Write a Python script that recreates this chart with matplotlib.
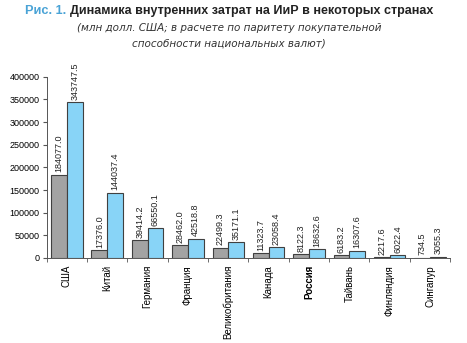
import matplotlib
matplotlib.use('Agg')
import matplotlib.pyplot as plt
import numpy as np

# данные
countries = ['США', 'Китай', 'Германия', 'Франция', 'Великобритания',
             'Канада', 'Россия', 'Тайвань', 'Финляндия', 'Сингапур']
series_old = [184077.0, 17376.0, 39414.2, 28462.0, 22499.3,
              11323.7, 8122.3, 6183.2, 2217.6, 734.5]
series_new = [343747.5, 144037.4, 66550.1, 42518.8, 35171.1,
              23058.4, 18632.6, 16307.6, 6022.4, 3055.3]
yticks = [0, 50000, 100000, 150000, 200000, 250000, 300000, 350000, 400000]

plt.rcParams['font.family'] = ['Liberation Sans Narrow', 'Liberation Sans', 'DejaVu Sans']

fig = plt.figure(figsize=(4.67, 3.43), dpi=100)
ax = fig.add_axes([0.1, 0.248, 0.864, 0.528])

x = np.arange(len(countries))
w = 0.39
ax.bar(x - w / 2, series_old, w, color='#a3a3a3', edgecolor='#404040', linewidth=0.8)
ax.bar(x + w / 2, series_new, w, color='#88d4f7', edgecolor='#404040', linewidth=0.8)

for i in range(len(countries)):
    ax.text(x[i] - w / 2, series_old[i] + 5000, f'{series_old[i]:.1f}', rotation=90,
            ha='center', va='bottom', fontsize=6.5, color='#222222')
    ax.text(x[i] + w / 2, series_new[i] + 5000, f'{series_new[i]:.1f}', rotation=90,
            ha='center', va='bottom', fontsize=6.5, color='#222222')

ax.set_xlim(-0.5, len(countries) - 0.5)
ax.set_ylim(0, 400000)
ax.set_yticks(yticks)
ax.set_yticklabels([str(v) for v in yticks], fontsize=6.5)
ax.set_xticks(x)
ax.set_xticklabels(countries, rotation=90, fontsize=7, va='top')
for lbl in ax.get_xticklabels():
    if lbl.get_text() == 'Россия':
        lbl.set_fontweight('bold')
ax.tick_params(axis='x', length=0, pad=5)
ax.set_xticks(np.arange(len(countries) + 1) - 0.5, minor=True)
ax.tick_params(axis='x', which='minor', length=3, color='#555555')
ax.tick_params(axis='y', length=3, color='#555555', pad=2)
ax.spines['top'].set_visible(False)
ax.spines['right'].set_visible(False)
ax.spines['left'].set_color('#555555')
ax.spines['bottom'].set_color('#555555')
ax.spines['left'].set_linewidth(0.7)
ax.spines['bottom'].set_linewidth(0.7)

# заголовок: "Рис. 1." синим, остальное тёмным
r = fig.canvas.get_renderer()
t1 = fig.text(25 / 467, 1 - 11 / 343, 'Рис. 1.', fontsize=9.2, fontweight='bold',
              color='#4aa3d6', ha='left', va='center')
bb = t1.get_window_extent(r)
fig.text((bb.x1 + 4) / 467, 1 - 11 / 343,
         'Динамика внутренних затрат на ИиР в некоторых странах',
         fontsize=9, fontweight='bold', color='#222222', ha='left', va='center')
fig.text(0.49, 1 - 28 / 343, '(млн долл. США; в расчете по паритету покупательной',
         fontsize=7.5, style='italic', color='#333333', family=['DejaVu Sans'],
         ha='center', va='center')
fig.text(0.49, 1 - 43 / 343, 'способности национальных валют)',
         fontsize=7.5, style='italic', color='#333333', family=['DejaVu Sans'],
         ha='center', va='center')

fig.savefig('out.png', dpi=100)
